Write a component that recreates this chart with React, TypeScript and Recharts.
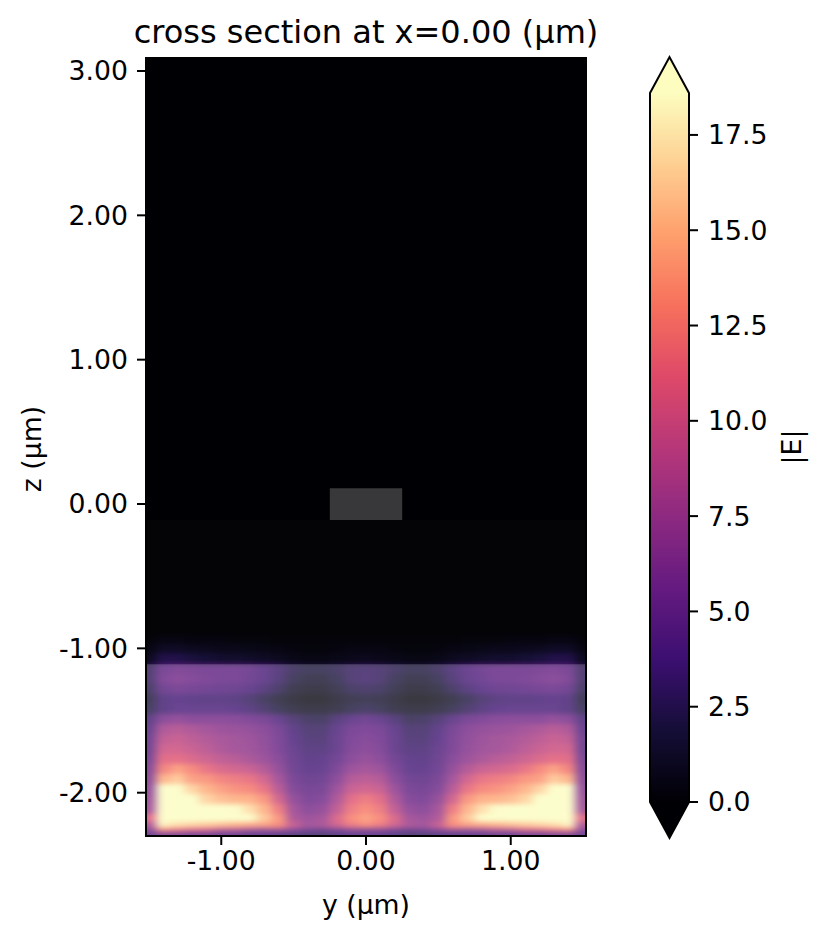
import { Bar, BarChart, ReferenceArea, Scatter, ScatterChart, XAxis, YAxis } from 'recharts';

const yCenters = [
    -1.5, -1.4, -1.3, -1.2, -1.1, -1.0, -0.9, -0.8, -0.7, -0.6, -0.5, -0.4, -0.3, -0.2, -0.1, 0,
    0.1, 0.2, 0.3, 0.4, 0.5, 0.6, 0.7, 0.8, 0.9, 1.0, 1.1, 1.2, 1.3, 1.4, 1.5,
];
const zEdges = [
    -0.91, -0.972, -1.035, -1.11, -1.18, -1.249, -1.318, -1.388, -1.457, -1.526, -1.595, -1.664,
    -1.734, -1.803, -1.872, -1.941, -2.01, -2.08, -2.149, -2.204, -2.246, -2.273, -2.32,
];
// |E|, one list per row from top to bottom
const fieldRows = [
    [.1,.4,.4,.3,.3,.3,.2,.2,.2,.1,.1,.1,.1,.1,.1,.1,.1,.1,.1,.1,.1,.1,.2,.2,.2,.3,.3,.3,.4,.4,.1],
    [.4,1.1,1.1,.9,.8,.7,.7,.6,.5,.4,.3,.2,.2,.3,.4,.4,.4,.3,.2,.2,.3,.4,.5,.6,.7,.7,.8,.9,1.1,1.1,.4],
    [.9,2.4,2.4,2,1.7,1.5,1.4,1.3,1.1,.9,.6,.5,.5,.6,.7,.8,.7,.6,.5,.5,.6,.9,1.1,1.3,1.4,1.5,1.7,2,2.4,2.4,.9],
    [2.6,5,5.4,5.2,5,5,5,4.7,4,3.2,2.3,1.9,1.9,2.3,2.8,3,2.8,2.4,1.9,1.9,2.4,3.3,4.1,4.7,5,5,5,5.2,5.4,5,2.6],
    [2.6,5.4,5.9,5.6,5.2,5,5,4.5,4,3,1.9,1.3,1.3,1.9,2.8,3.1,2.8,1.9,1.3,1.3,1.9,3,4,4.5,5,5,5.2,5.6,5.9,5.4,2.6],
    [2.2,4.6,5,4.8,4.6,4.4,4.3,3.9,3.2,2.3,1.2,.8,.8,1.4,2.2,2.4,2.2,1.4,.8,.8,1.2,2.3,3.2,3.9,4.3,4.4,4.6,4.8,5,4.6,2.2],
    [1.5,3.5,3.8,3.6,3.5,3.5,3.3,2.8,2,1.2,.6,.3,.3,.8,1.3,1.5,1.3,.8,.3,.3,.6,1.2,2,2.8,3.3,3.5,3.5,3.6,3.8,3.5,1.5],
    [2,3.5,4,4,4,4,3.8,3.3,2.6,1.8,1.1,.8,.8,1.1,1.8,2.2,1.8,1.1,.8,.8,1.1,1.8,2.6,3.3,3.8,4,4,4,4,3.5,2],
    [3.5,6,6.5,6,6,6,5.8,5.4,5,4,2.9,2.2,2.1,3.1,4,4.5,4,3.1,2.1,2.2,2.9,4,5,5.4,5.8,6,6,6,6.5,6,3.5],
    [4,8,8.5,8,7.5,7,6.8,6.5,6,5,3.6,2.8,2.8,3.9,5,5.3,5,3.9,2.8,2.8,3.6,5,6,6.5,6.8,7,7.5,8,8.5,8,4],
    [4.5,9,9.5,8.8,8.2,7.7,7.4,7,6.3,5.2,3.8,3,3,4.1,5.3,5.7,5.3,4.1,3,3,3.8,5.2,6.3,7,7.4,7.7,8.2,8.8,9.5,9,4.5],
    [4.5,10,10,9.5,8.8,8,7.5,7.2,6.5,5.3,4.1,3.3,3.3,4.1,5.5,6,5.5,4.1,3.3,3.3,4.1,5.3,6.5,7.2,7.5,8,8.8,9.5,10,10,4.5],
    [5,11,11.2,10.5,9.8,9,8.5,7.8,7,5.8,4.3,3.6,3.7,4.6,6,6.7,6,4.6,3.7,3.6,4.3,5.8,7,7.8,8.5,9,9.8,10.5,11.2,11,5],
    [5.5,12.5,14,12.8,11.5,10.5,10,9.5,8.3,6.5,4.5,3.8,3.9,5.2,7,7.5,7,5.2,3.9,3.8,4.5,6.5,8.3,9.5,10,10.5,11.5,12.8,14,12.5,5.5],
    [6,15,16,14,13.5,12.5,12,11.5,10,7.5,5,4.3,4.5,6,8.3,8.8,8.3,6,4.5,4.3,5,7.5,10,11.5,12,12.5,13.5,14,16,15,6],
    [6.5,19,20,16.5,15,14,13.2,12.8,11.5,8.5,5.5,4.8,5,7,9.5,10,9.5,7,5,4.8,5.5,8.5,11.5,12.8,13.2,14,15,16.5,20,19,6.5],
    [7,19,21,19,16.5,15.5,15,14.8,13.5,10,6.5,5.3,5.6,8,11,12,11,8,5.6,5.3,6.5,10,13.5,14.8,15,15.5,16.5,19,21,19,7],
    [7.5,20,21,21,20,19.5,18.5,17,15,12,7.5,6,6.5,9,12,13,12,9,6.5,6,7.5,12,15,17,18.5,19.5,20,21,21,20,7.5],
    [11,21,22,22,22,21,20,19,16,13.5,8,7,7.5,10.5,13,14,13,10.5,7.5,7,8,13.5,16,19,20,21,22,22,22,21,11],
    [8,18,17,16.5,16,15.5,15,14.5,14,13,9.5,7.5,8,10,12,13,12,10,8,7.5,9.5,13,14,14.5,15,15.5,16,16.5,17,18,8],
    [6,13,12,11,10.5,9,8.5,7.5,7,7.5,6,5,4.5,5,6,6,6,5,4.5,5,6,7.5,7,7.5,8.5,9,10.5,11,12,13,6],
    [4.5,5.5,5.5,5,5,4.5,4.5,4,4,3.5,3.5,3,3,3.5,4,4,4,3.5,3,3,3.5,3.5,4,4,4.5,4.5,5,5,5.5,5.5,4.5],
];
const yTicks = [-1, 0, 1];
const zTicks = [-2, -1, 0, 1, 2, 3];
const colorTicks = [0, 2.5, 5, 7.5, 10, 12.5, 15, 17.5];
const magmaStops = [
    '#000004', '#140e36', '#3b0f70', '#641a80', '#8c2981', '#b73779',
    '#de4968', '#f7705c', '#fe9f6d', '#fecf92', '#fcfdbf',
];

const VMAX = 18.6;
const FONT = '"DejaVu Sans", sans-serif';
const TICK_SIZE = 26.7;
const LINE = 2;
const PLOT = { left: 146, top: 58, right: 586, bottom: 836 };
const Y_DOMAIN: [number, number] = [-1.52, 1.52];
const Z_DOMAIN: [number, number] = [-2.3, 3.09];
const PX_PER_Y = (PLOT.right - PLOT.left) / (Y_DOMAIN[1] - Y_DOMAIN[0]);
const PX_PER_Z = (PLOT.bottom - PLOT.top) / (Z_DOMAIN[1] - Z_DOMAIN[0]);

function magma(value: number) {
    const t = (Math.min(value, VMAX) / VMAX) * (magmaStops.length - 1);
    const i = Math.min(Math.floor(t), magmaStops.length - 2);
    const f = t - i;
    const ch = (hex: string, k: number) => parseInt(hex.slice(1 + k * 2, 3 + k * 2), 16);
    const mix = [0, 1, 2].map((k) =>
        Math.round(ch(magmaStops[i], k) * (1 - f) + ch(magmaStops[i + 1], k) * f),
    );
    return `rgb(${mix.join(',')})`;
}

const cells = fieldRows.flatMap((row, r) =>
    row.map((value, c) => ({
        y: yCenters[c],
        z: (zEdges[r] + zEdges[r + 1]) / 2,
        rowSpan: zEdges[r] - zEdges[r + 1],
        value,
        firstCol: c === 0,
        lastCol: c === yCenters.length - 1,
        lastRow: r === fieldRows.length - 1,
    })),
);

// one heatmap cell, bled past the frame on the outer edges so the blur does not fade there
function HeatCell(props: any) {
    const { cx, cy, payload } = props;
    const w = 0.1 * PX_PER_Y;
    const h = payload.rowSpan * PX_PER_Z;
    const bleedL = payload.firstCol ? 14 : 0;
    const bleedR = payload.lastCol ? 14 : 0;
    const bleedB = payload.lastRow ? 12 : 0;
    return (
        <rect
            x={cx - w / 2 - bleedL - 0.3}
            y={cy - h / 2 - 0.3}
            width={w + bleedL + bleedR + 0.6}
            height={h + bleedB + 0.6}
            fill={magma(payload.value)}
        />
    );
}

function ColorbarShape(props: any) {
    const { x, y, width, height } = props;
    const tip = 36;
    const mid = x + width / 2;
    const bottom = y + height;
    return (
        <g>
            <polygon points={`${x},${y} ${mid},${y - tip} ${x + width},${y}`} fill={magmaStops[10]} />
            <rect x={x} y={y} width={width} height={height} fill="url(#magmaGradient)" />
            <polygon points={`${x},${bottom} ${mid},${bottom + tip} ${x + width},${bottom}`} fill={magmaStops[0]} />
            <path
                d={`M${x},${y} L${mid},${y - tip} L${x + width},${y} L${x + width},${bottom} L${mid},${bottom + tip} L${x},${bottom} Z`}
                fill="none"
                stroke="#000"
                strokeWidth={LINE}
            />
        </g>
    );
}

const tickStyle = { fontSize: TICK_SIZE, fontFamily: FONT, fill: '#000' };
const axisLine = { stroke: '#000', strokeWidth: LINE };

export default function App() {
    return (
        <div style={{ position: 'absolute', left: 0, top: 0, width: 825, height: 940, background: '#fff' }}>
            <style>{`.recharts-scatter { filter: url(#fieldSmooth); clip-path: url(#plotClip); }`}</style>
            <div style={{ position: 'absolute', left: 0, top: 0 }}>
                <ScatterChart
                    width={825}
                    height={940}
                    margin={{ top: PLOT.top, left: PLOT.left - 90, right: 825 - PLOT.right, bottom: 940 - PLOT.bottom - 60 }}
                >
                    <defs>
                        <filter id="fieldSmooth" filterUnits="userSpaceOnUse" x="100" y="560" width="540" height="340" colorInterpolationFilters="sRGB">
                            <feGaussianBlur stdDeviation="5 2.4" />
                        </filter>
                        <clipPath id="plotClip">
                            <rect x={PLOT.left} y={PLOT.top} width={PLOT.right - PLOT.left} height={PLOT.bottom - PLOT.top} />
                        </clipPath>
                    </defs>
                    <XAxis
                        type="number"
                        dataKey="y"
                        domain={Y_DOMAIN}
                        allowDataOverflow
                        ticks={yTicks}
                        height={60}
                        tick={tickStyle}
                        tickLine={axisLine}
                        axisLine={axisLine}
                        tickSize={9}
                        tickMargin={6}
                        tickFormatter={(v) => Number(v).toFixed(2)}
                    />
                    <YAxis
                        type="number"
                        dataKey="z"
                        domain={Z_DOMAIN}
                        allowDataOverflow
                        ticks={zTicks}
                        width={90}
                        tick={tickStyle}
                        tickLine={axisLine}
                        axisLine={axisLine}
                        tickSize={9}
                        tickMargin={9}
                        tickFormatter={(v) => Number(v).toFixed(2)}
                    />
                    <ReferenceArea x1={Y_DOMAIN[0]} x2={Y_DOMAIN[1]} y1={Z_DOMAIN[0]} y2={Z_DOMAIN[1]} fill="#000004" fillOpacity={1} stroke="none" zIndex={50} />
                    <Scatter data={cells} shape={HeatCell} isAnimationActive={false} />
                    <ReferenceArea x1={Y_DOMAIN[0]} x2={Y_DOMAIN[1]} y1={-1.11} y2={-0.11} fill="#fff" fillOpacity={0.014} stroke="none" zIndex={700} />
                    <ReferenceArea x1={Y_DOMAIN[0]} x2={Y_DOMAIN[1]} y1={Z_DOMAIN[0]} y2={-1.11} fill="#fff" fillOpacity={0.22} stroke="none" zIndex={700} />
                    <ReferenceArea x1={-0.25} x2={0.25} y1={-0.11} y2={0.11} fill="#fff" fillOpacity={0.22} stroke="none" zIndex={700} />
                    <ReferenceArea x1={Y_DOMAIN[0]} x2={Y_DOMAIN[1]} y1={Z_DOMAIN[0]} y2={Z_DOMAIN[1]} fill="none" stroke="#000" strokeWidth={LINE} zIndex={800} />
                    <text x={366} y={43} textAnchor="middle" fontSize={32} fontFamily={FONT} fill="#000">
                        cross section at x=0.00 (µm)
                    </text>
                    <text x={366} y={914} textAnchor="middle" fontSize={TICK_SIZE} fontFamily={FONT} fill="#000">
                        y (µm)
                    </text>
                    <text transform="translate(41,449) rotate(-90)" textAnchor="middle" fontSize={TICK_SIZE} fontFamily={FONT} fill="#000">
                        z (µm)
                    </text>
                </ScatterChart>
            </div>
            <div style={{ position: 'absolute', left: 0, top: 0 }}>
                <BarChart
                    width={825}
                    height={940}
                    data={[{ name: '|E|', value: VMAX }]}
                    margin={{ top: 93, left: 650, right: 36, bottom: 138 }}
                    barCategoryGap={0}
                >
                    <defs>
                        <linearGradient id="magmaGradient" x1="0" y1="1" x2="0" y2="0">
                            {magmaStops.map((c, i) => (
                                <stop key={c} offset={i / (magmaStops.length - 1)} stopColor={c} />
                            ))}
                        </linearGradient>
                    </defs>
                    <XAxis dataKey="name" hide />
                    <YAxis
                        orientation="right"
                        type="number"
                        domain={[0, VMAX]}
                        ticks={colorTicks}
                        width={100}
                        tick={tickStyle}
                        tickLine={axisLine}
                        axisLine={false}
                        tickSize={9}
                        tickMargin={10}
                        tickFormatter={(v) => Number(v).toFixed(1)}
                    />
                    <Bar dataKey="value" shape={ColorbarShape} isAnimationActive={false} />
                    <text transform="translate(801,447) rotate(-90)" textAnchor="middle" fontSize={TICK_SIZE} fontFamily={FONT} fill="#000">
                        |E|
                    </text>
                </BarChart>
            </div>
        </div>
    );
}
